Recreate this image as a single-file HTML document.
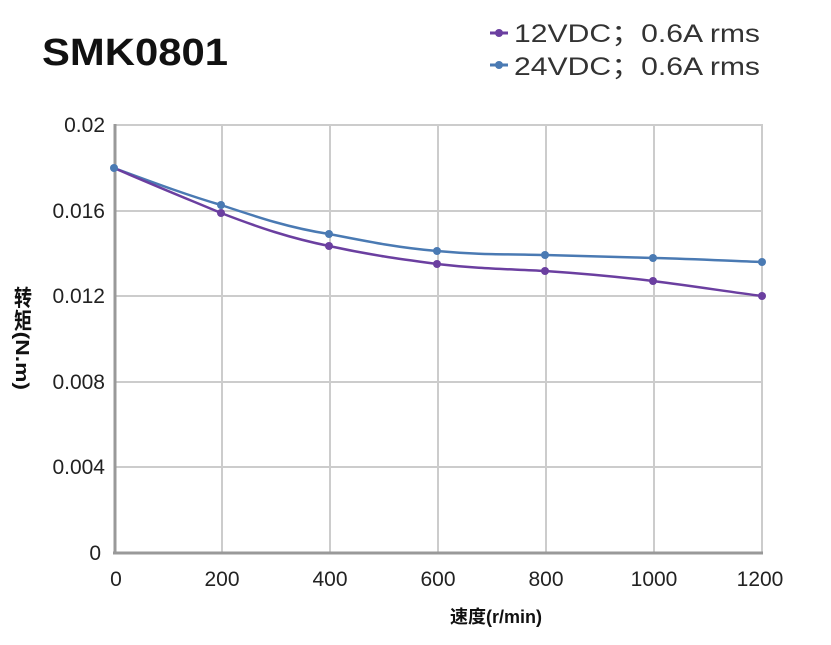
<!DOCTYPE html>
<html><head><meta charset="utf-8"><style>
body{margin:0;background:#fff;width:831px;height:640px;overflow:hidden}
svg text{font-family:"Liberation Sans","Noto Sans CJK SC",sans-serif}
</style></head><body>
<svg width="831" height="640" xmlns="http://www.w3.org/2000/svg">
<text x="42" y="65" font-size="38" font-weight="bold" fill="#111" textLength="186" lengthAdjust="spacingAndGlyphs">SMK0801</text>
<g stroke="#ccc" stroke-width="2">
<line x1="114" y1="125" x2="763" y2="125"/><line x1="114" y1="211" x2="763" y2="211"/>
<line x1="114" y1="296" x2="763" y2="296"/><line x1="114" y1="382" x2="763" y2="382"/>
<line x1="114" y1="467" x2="763" y2="467"/>
<line x1="222" y1="125" x2="222" y2="553"/><line x1="330" y1="125" x2="330" y2="553"/>
<line x1="438" y1="125" x2="438" y2="553"/><line x1="546" y1="125" x2="546" y2="553"/>
<line x1="654" y1="125" x2="654" y2="553"/><line x1="762" y1="125" x2="762" y2="553"/>
</g>
<g stroke="#999" stroke-width="3"><line x1="115" y1="124" x2="115" y2="554"/><line x1="113" y1="553" x2="763" y2="553"/></g>
<g font-size="21" fill="#222" text-anchor="end">
<text x="105" y="132">0.02</text><text x="105" y="218">0.016</text><text x="105" y="303">0.012</text>
<text x="105" y="389">0.008</text><text x="105" y="474">0.004</text><text x="101" y="560">0</text></g>
<g font-size="21" fill="#222" text-anchor="middle">
<text x="116" y="586">0</text><text x="222" y="586">200</text><text x="330" y="586">400</text><text x="438" y="586">600</text>
<text x="546" y="586">800</text><text x="654" y="586">1000</text><text x="760" y="586">1200</text></g>
<text x="496" y="623" font-size="18" font-weight="bold" text-anchor="middle" fill="#111">速度(r/min)</text>
<text x="22" y="338" font-size="18" font-weight="bold" fill="#111" text-anchor="middle" style="writing-mode:vertical-rl" textLength="104" lengthAdjust="spacingAndGlyphs">转矩(N.m)</text>
<path fill="none" stroke="#4a7ab3" stroke-width="2.5" d="M114,168 C160,185 190,196 221,205 C260,218 290,228 329,234 C370,242 400,248 437,251 C480,255 510,254 545,255 C590,256 620,257 653,258 C700,259 730,261 762,262"/>
<path fill="none" stroke="#6b3fa0" stroke-width="2.5" d="M114,168 C160,188 190,200 221,213 C260,228 290,238 329,246 C370,255 400,259 437,264 C480,269 510,269 545,271 C590,274 620,277 653,281 C700,287 730,292 762,296"/>
<g fill="#4a7ab3"><circle cx="114" cy="168" r="4"/><circle cx="221" cy="205" r="4"/><circle cx="329" cy="234" r="4"/><circle cx="437" cy="251" r="4"/><circle cx="545" cy="255" r="4"/><circle cx="653" cy="258" r="4"/><circle cx="762" cy="262" r="4"/></g>
<g fill="#6b3fa0"><circle cx="221" cy="213" r="4"/><circle cx="329" cy="246" r="4"/><circle cx="437" cy="264" r="4"/><circle cx="545" cy="271" r="4"/><circle cx="653" cy="281" r="4"/><circle cx="762" cy="296" r="4"/></g>
<line x1="490" y1="33" x2="508" y2="33" stroke="#6b3fa0" stroke-width="3"/>
<circle cx="499" cy="33" r="4" fill="#6b3fa0"/>
<line x1="490" y1="65" x2="508" y2="65" stroke="#4a7ab3" stroke-width="3"/>
<circle cx="499" cy="65" r="4" fill="#4a7ab3"/>
<g font-size="25" fill="#333"><text x="514" y="42" textLength="246" lengthAdjust="spacingAndGlyphs">12VDC；0.6A rms</text><text x="514" y="75" textLength="246" lengthAdjust="spacingAndGlyphs">24VDC；0.6A rms</text></g>
</svg>
</body></html>
